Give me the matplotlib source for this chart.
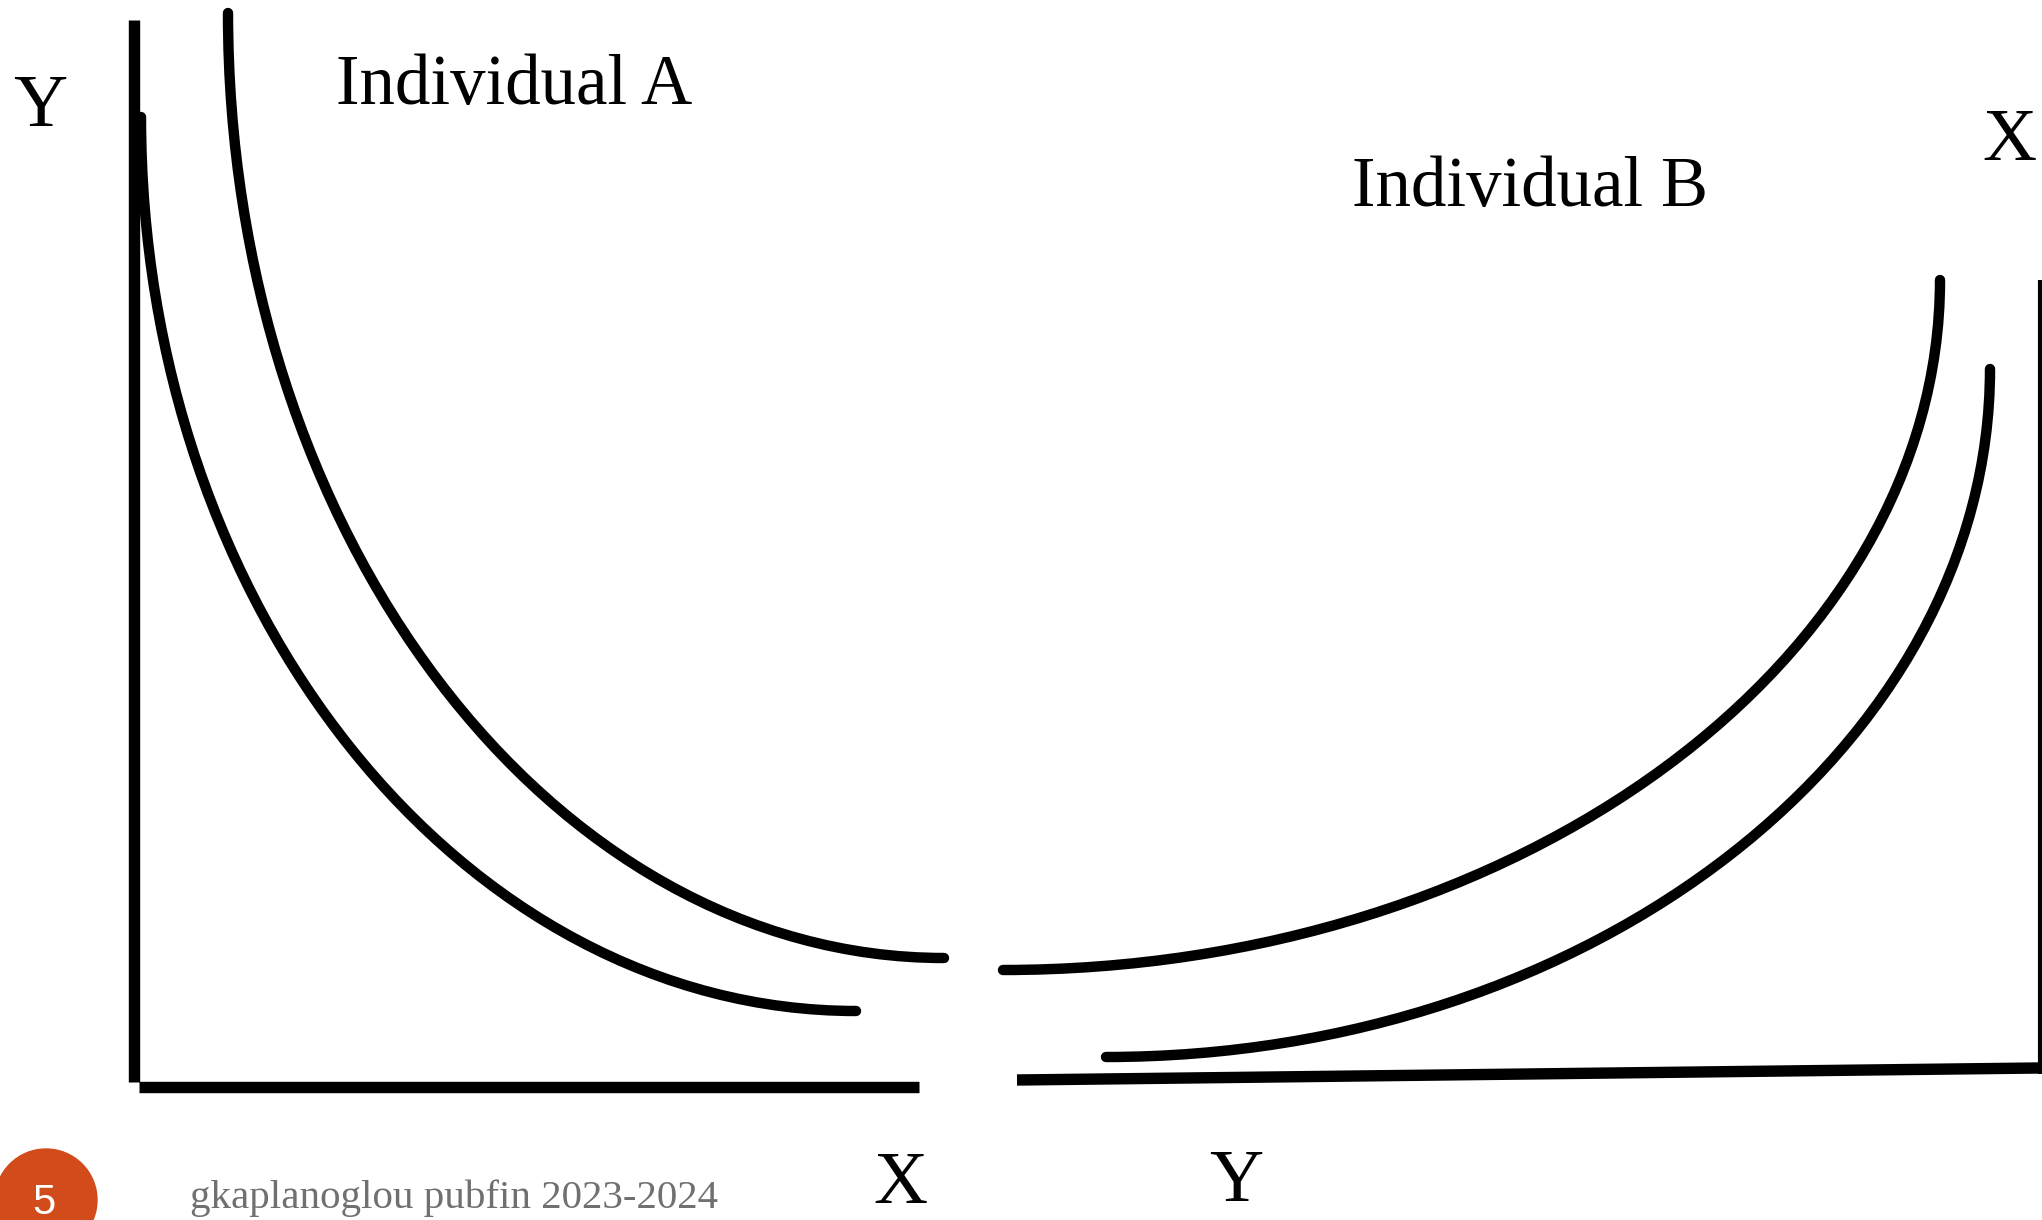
import matplotlib
matplotlib.use('Agg')
import matplotlib.pyplot as plt
from matplotlib.path import Path
from matplotlib.patches import PathPatch, Circle

# Canvas is the slide, in pixels (y grows downwards)
W, H = 2042, 1220

# Indifference curves as cubic Bezier control points (x list, y list)
curve_a1_x = [141, 141, 463, 856]
curve_a1_y = [117, 609, 1011, 1011]
curve_a2_x = [228, 228, 550, 944]
curve_a2_y = [13, 533, 958, 958]
curve_b1_x = [1003, 1518, 1940, 1940]
curve_b1_y = [970, 970, 660, 280]
curve_b2_x = [1106, 1592, 1990, 1990]
curve_b2_y = [1057, 1057, 747, 369]

# Axis lines (x list, y list)
axis_a_vert_x = [133.5, 133.5]
axis_a_vert_y = [20, 1082]
axis_a_horiz_x = [139, 919]
axis_a_horiz_y = [1087, 1087]
axis_b_horiz_x = [1017, 2038]
axis_b_horiz_y = [1080, 1068]
axis_b_vert_x = [2040, 2040]
axis_b_vert_y = [280, 1074]

labels = ['Individual A', 'Individual B']
footer = 'gkaplanoglou pubfin 2023-2024'
slide_no = '5'

fig = plt.figure(figsize=(W / 100, H / 100), dpi=100)
ax = fig.add_axes([0, 0, 1, 1])
ax.set_xlim(0, W)
ax.set_ylim(H, 0)
ax.axis('off')

serif = 'Liberation Serif'

# axes
for xs, ys in [(axis_a_vert_x, axis_a_vert_y), (axis_a_horiz_x, axis_a_horiz_y),
               (axis_b_horiz_x, axis_b_horiz_y)]:
    ax.plot(xs, ys, color='black', linewidth=8.2, solid_capstyle='butt')
ax.plot(axis_b_vert_x, axis_b_vert_y, color='black', linewidth=3, solid_capstyle='butt')

# curves
codes = [Path.MOVETO, Path.CURVE4, Path.CURVE4, Path.CURVE4]
for xs, ys in [(curve_a1_x, curve_a1_y), (curve_a2_x, curve_a2_y),
               (curve_b1_x, curve_b1_y), (curve_b2_x, curve_b2_y)]:
    path = Path(list(zip(xs, ys)), codes)
    ax.add_patch(PathPatch(path, facecolor='none', edgecolor='black',
                           linewidth=7.5, capstyle='round'))

# text
ax.text(336, 104, labels[0], fontsize=51, family=serif, va='baseline', ha='left')
ax.text(1352, 206, labels[1], fontsize=51, family=serif, va='baseline', ha='left')
ax.text(13, 126, 'Y', fontsize=54, family=serif, va='baseline', ha='left')
ax.text(1982, 160, 'X', fontsize=54, family=serif, va='baseline', ha='left')
ax.text(1209, 1201, 'Y', fontsize=54, family=serif, va='baseline', ha='left')
ax.text(873, 1203, 'X', fontsize=54, family=serif, va='baseline', ha='left')

# footer
ax.add_patch(Circle((46, 1200), 51, color='#D24B1B', clip_on=True))
ax.text(44, 1214, slide_no, fontsize=30, family='Liberation Sans', color='white',
        va='baseline', ha='center')
ax.text(190, 1208, footer, fontsize=29.5, family=serif, color='#707070',
        va='baseline', ha='left')

fig.savefig('out.png', dpi=100)
